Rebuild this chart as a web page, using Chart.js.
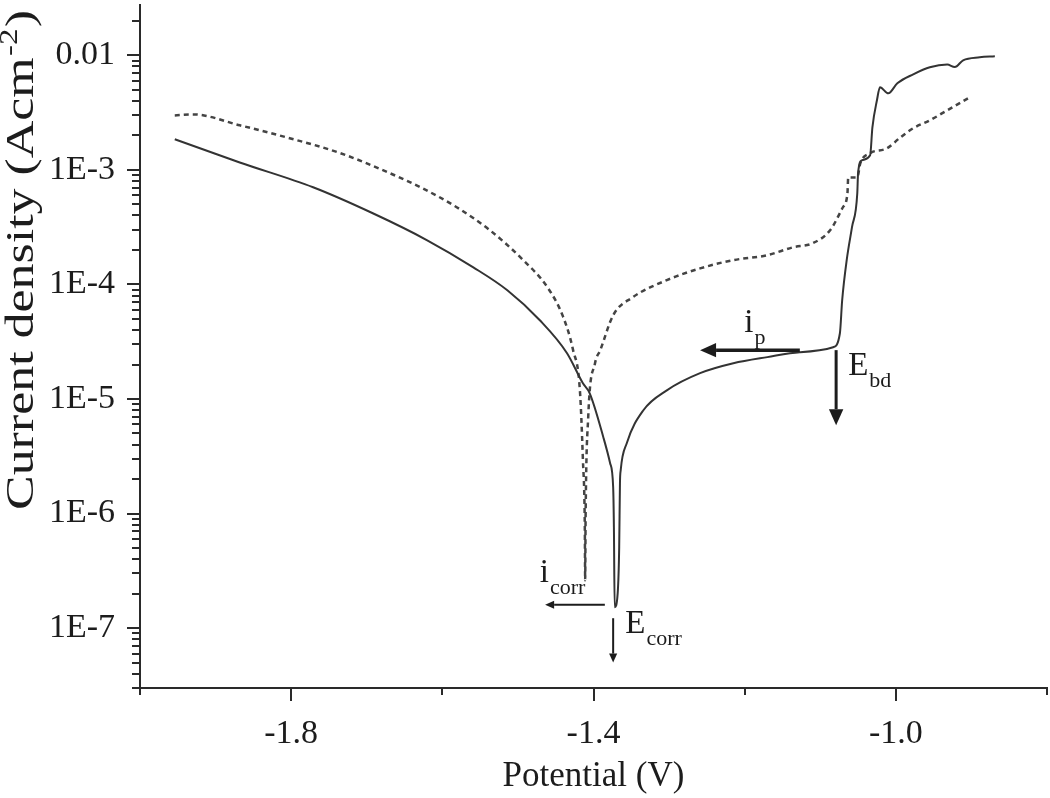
<!DOCTYPE html>
<html>
<head>
<meta charset="utf-8">
<script src="https://cdn.jsdelivr.net/npm/chart.js@4/dist/chart.umd.min.js"></script>
<style>
  html, body { margin: 0; padding: 0; background: #fff; }
  #wrap { width: 1050px; height: 798px; }
</style>
</head>
<body>
<div id="wrap"><canvas id="polChart" width="1050" height="798"></canvas></div>
<script>
// solid curve (potential in V, current density in A/cm2)
const solidPotential = [-1.954, -1.868, -1.771, -1.692, -1.620, -1.559, -1.514, -1.471, -1.435, -1.414,
  -1.405, -1.387, -1.378, -1.374, -1.373, -1.372, -1.368, -1.366, -1.365, -1.364, -1.356, -1.334,
  -1.303, -1.259, -1.215, -1.170, -1.127, -1.083, -1.074, -1.071, -1.065, -1.058, -1.051, -1.050,
  -1.045, -1.034, -1.031, -1.025, -1.021, -1.010, -0.998, -0.977, -0.955, -0.932, -0.922, -0.911,
  -0.889, -0.869];
const solidCurrent = [1.85e-3, 1.16e-3, 7.05e-4, 4.18e-4, 2.43e-4, 1.41e-4, 8.9e-5, 4.87e-5, 2.51e-5, 1.37e-5,
  1.12e-5, 4.64e-6, 2.75e-6, 1.70e-6, 7.6e-7, 1.52e-7, 2.02e-7, 5.1e-7, 1.84e-6, 2.39e-6, 4.11e-6, 7.98e-6,
  1.19e-5, 1.68e-5, 2.05e-5, 2.32e-5, 2.56e-5, 2.83e-5, 3.75e-5, 7.28e-5, 1.63e-4, 3.16e-4, 6.25e-4, 9.3e-4,
  1.21e-3, 1.34e-3, 2.35e-3, 4.05e-3, 5.26e-3, 4.66e-3, 5.70e-3, 6.82e-3, 7.86e-3, 8.3e-3, 7.9e-3, 9.04e-3,
  9.6e-3, 9.8e-3];

// dotted curve
const dottedPotential = [-1.954, -1.930, -1.868, -1.802, -1.735, -1.669, -1.626, -1.581, -1.537, -1.493,
  -1.461, -1.440, -1.427, -1.418, -1.414, -1.4115, -1.411, -1.4105, -1.407, -1.398, -1.391, -1.374,
  -1.348, -1.303, -1.259, -1.215, -1.170, -1.136, -1.110, -1.087, -1.070, -1.064, -1.063, -1.051,
  -1.047, -1.034, -1.012, -0.994, -0.977, -0.955, -0.932, -0.902];
const dottedCurrent = [2.99e-3, 3.05e-3, 2.45e-3, 1.89e-3, 1.40e-3, 9.33e-4, 6.90e-4, 4.72e-4, 2.97e-4, 1.63e-4,
  9.46e-5, 5.18e-5, 2.67e-5, 1.19e-5, 2.92e-6, 7.6e-7, 2.62e-7, 8.7e-7, 6.93e-6, 2.05e-5, 2.67e-5, 5.38e-5,
  7.73e-5, 1.09e-4, 1.38e-4, 1.63e-4, 1.80e-4, 2.11e-4, 2.29e-4, 2.97e-4, 4.72e-4, 6.25e-4, 8.6e-4, 8.6e-4,
  1.14e-3, 1.40e-3, 1.54e-3, 1.92e-3, 2.31e-3, 2.71e-3, 3.31e-3, 4.31e-3];

// tick labels and axis titles
const xTickValues = [-1.8, -1.4, -1.0];
const xTickLabels = ['-1.8', '-1.4', '-1.0'];
const yTickValues = [1e-2, 1e-3, 1e-4, 1e-5, 1e-6, 1e-7];
const yTickLabels = ['0.01', '1E-3', '1E-4', '1E-5', '1E-6', '1E-7'];
const yTitleParts = ['Current density (Acm', '-2', ')'];

// annotations, in data units
const arrows = [
  { from: [-1.385, 1.6e-7], to: [-1.464, 1.6e-7], width: 2, head: 9 },
  { from: [-1.374, 1.22e-7], to: [-1.374, 5.0e-8], width: 2, head: 9 },
  { from: [-1.127, 2.67e-5], to: [-1.259, 2.67e-5], width: 3.5, head: 16 },
  { from: [-1.079, 2.67e-5], to: [-1.079, 5.9e-6], width: 3, head: 16 }
];
const notes = [
  { at: [-1.471, 2.52e-7], main: 'i', sub: 'corr' },
  { at: [-1.358, 9.0e-8], main: 'E', sub: 'corr' },
  { at: [-1.2005, 3.83e-5], main: 'i', sub: 'p' },
  { at: [-1.063, 1.61e-5], main: 'E', sub: 'bd' }
];

const serif = "'Liberation Serif', 'DejaVu Serif', serif";
const ink = '#1c1c1c';

function labelFor(values, labels, v) {
  for (let i = 0; i < values.length; i++) {
    if (Math.abs(values[i] - v) <= Math.abs(values[i]) * 1e-6) return labels[i];
  }
  return '';
}

// tick marks drawn outside the axes, long for labelled ticks, short for the rest
const tickMarks = {
  id: 'tickMarks',
  afterDraw(chart) {
    const ctx = chart.ctx;
    const xs = chart.scales.x, ys = chart.scales.y;
    const area = chart.chartArea;
    ctx.save();
    ctx.strokeStyle = '#2a2a2a';
    ctx.lineWidth = 2;
    xs.ticks.forEach(t => {
      const px = Math.round(xs.getPixelForValue(t.value));
      const len = labelFor(xTickValues, xTickLabels, t.value) ? 13 : 7;
      ctx.beginPath();
      ctx.moveTo(px, area.bottom);
      ctx.lineTo(px, area.bottom + len);
      ctx.stroke();
    });
    ys.ticks.forEach(t => {
      const py = Math.round(ys.getPixelForValue(t.value));
      const len = labelFor(yTickValues, yTickLabels, t.value) ? 13 : 8;
      ctx.beginPath();
      ctx.moveTo(area.left, py);
      ctx.lineTo(area.left - len, py);
      ctx.stroke();
    });

    // y title: the source uses a tall, stretched face, so fit it to its length
    ctx.save();
    ctx.fillStyle = ink;
    ctx.textAlign = 'left';
    ctx.textBaseline = 'alphabetic';
    const big = '41px ' + serif, small = '26px ' + serif;
    ctx.font = big;
    const w1 = ctx.measureText(yTitleParts[0]).width;
    const w3 = ctx.measureText(yTitleParts[2]).width;
    ctx.font = small;
    const w2 = ctx.measureText(yTitleParts[1]).width;
    ctx.translate(33, 510);
    ctx.rotate(-Math.PI / 2);
    ctx.scale(500 / (w1 + w2 + w3 + 2), 1);
    ctx.font = big;
    ctx.fillText(yTitleParts[0], 0, 0);
    ctx.font = small;
    ctx.fillText(yTitleParts[1], w1 + 1, -16);
    ctx.font = big;
    ctx.fillText(yTitleParts[2], w1 + w2 + 2, 0);
    ctx.restore();
    ctx.restore();
  }
};

const annotate = {
  id: 'annotate',
  afterDatasetsDraw(chart) {
    const ctx = chart.ctx;
    const xs = chart.scales.x, ys = chart.scales.y;
    ctx.save();
    ctx.strokeStyle = ink;
    ctx.fillStyle = ink;
    arrows.forEach(a => {
      const x1 = xs.getPixelForValue(a.from[0]), y1 = ys.getPixelForValue(a.from[1]);
      const x2 = xs.getPixelForValue(a.to[0]), y2 = ys.getPixelForValue(a.to[1]);
      const ang = Math.atan2(y2 - y1, x2 - x1);
      const hx = x2 - Math.cos(ang) * a.head, hy = y2 - Math.sin(ang) * a.head;
      ctx.lineWidth = a.width;
      ctx.beginPath();
      ctx.moveTo(x1, y1);
      ctx.lineTo(hx, hy);
      ctx.stroke();
      const w = a.head * 0.45;
      ctx.beginPath();
      ctx.moveTo(x2, y2);
      ctx.lineTo(hx + Math.sin(ang) * w, hy - Math.cos(ang) * w);
      ctx.lineTo(hx - Math.sin(ang) * w, hy + Math.cos(ang) * w);
      ctx.closePath();
      ctx.fill();
    });
    ctx.textBaseline = 'alphabetic';
    notes.forEach(n => {
      const x = xs.getPixelForValue(n.at[0]), y = ys.getPixelForValue(n.at[1]);
      ctx.font = '33px ' + serif;
      ctx.fillText(n.main, x, y);
      const w = ctx.measureText(n.main).width;
      ctx.font = '22px ' + serif;
      ctx.fillText(n.sub, x + w + 1, y + 12);
    });
    ctx.restore();
  }
};

const ctx = document.getElementById('polChart').getContext('2d');
const polChart = new Chart(ctx, {
  type: 'line',
  data: {
    datasets: [{
      label: 'solid',
      data: solidPotential.map((v, i) => ({ x: v, y: solidCurrent[i] })),
      borderColor: '#333',
      borderWidth: 2,
      pointRadius: 0,
      cubicInterpolationMode: 'monotone',
      fill: false
    }, {
      label: 'dotted',
      data: dottedPotential.map((v, i) => ({ x: v, y: dottedCurrent[i] })),
      borderColor: '#444',
      borderWidth: 2.5,
      borderDash: [5, 4],
      pointRadius: 0,
      cubicInterpolationMode: 'monotone',
      fill: false
    }]
  },
  options: {
    responsive: false,
    animation: false,
    devicePixelRatio: 1,
    layout: { padding: { top: 5, right: 3, left: 0, bottom: 0 } },
    plugins: {
      legend: { display: false },
      tooltip: { enabled: false }
    },
    scales: {
      x: {
        type: 'linear',
        min: -2.0,
        max: -0.8,
        grid: { display: false, drawTicks: false },
        border: { display: true, color: '#2a2a2a', width: 2 },
        ticks: {
          stepSize: 0.2,
          padding: 26,
          maxRotation: 0,
          autoSkip: false,
          color: ink,
          font: { family: serif, size: 34 },
          callback: v => labelFor(xTickValues, xTickLabels, v)
        },
        title: {
          display: true,
          text: 'Potential (V)',
          color: ink,
          font: { family: serif, size: 35 },
          padding: { top: 0, bottom: 0 }
        },
        afterFit: s => {
          s.height = 110;
          s.paddingLeft = 0;
          s.paddingRight = 0;
        }
      },
      y: {
        type: 'logarithmic',
        min: 3e-8,
        max: 0.0275,
        grid: { display: false, drawTicks: false },
        border: { display: true, color: '#2a2a2a', width: 2 },
        afterBuildTicks: s => {
          const list = [];
          for (let e = -8; e <= -2; e++) {
            for (let m = 1; m <= 9; m++) {
              const v = parseFloat((m * Math.pow(10, e)).toPrecision(6));
              if (v >= s.min && v <= s.max) list.push({ value: v });
            }
          }
          s.ticks = list;
        },
        ticks: {
          padding: 25,
          autoSkip: false,
          color: ink,
          font: { family: serif, size: 34 },
          callback: v => labelFor(yTickValues, yTickLabels, v)
        },
        afterFit: s => {
          s.width = 140;
          s.paddingTop = 0;
          s.paddingBottom = 0;
        }
      }
    }
  },
  plugins: [tickMarks, annotate]
});
</script>
</body>
</html>
